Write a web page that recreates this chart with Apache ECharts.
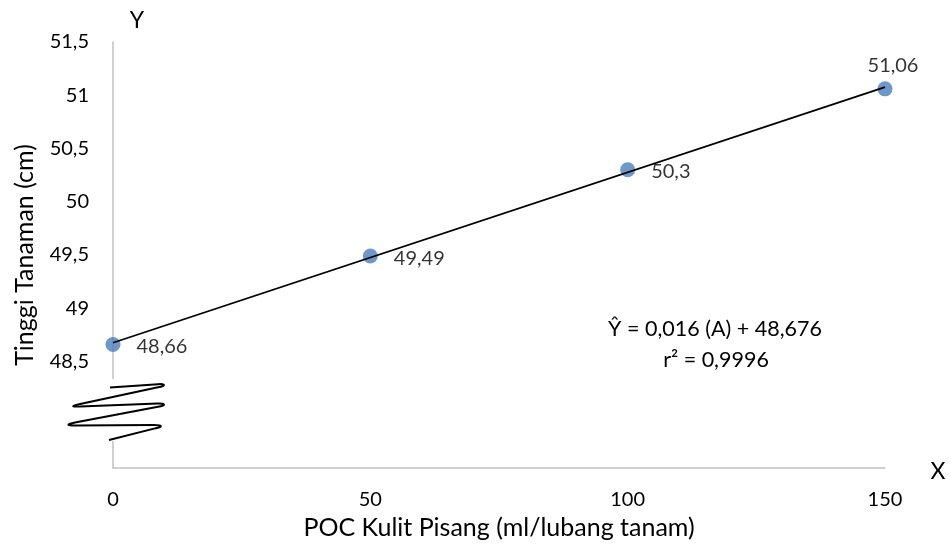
<!DOCTYPE html>
<html>
<head>
<meta charset="utf-8">
<script src="https://cdn.jsdelivr.net/npm/echarts@6/dist/echarts.min.js"></script>
<style>html,body{margin:0;padding:0;background:#fff}#c{width:951px;height:553px}</style>
</head>
<body>
<div id="c"></div>
<script>
// ---- data ----
const xValues = [0, 50, 100, 150];
const yValues = [48.66, 49.49, 50.3, 51.06];
const pointLabels = ['48,66', '49,49', '50,3', '51,06'];
const trendX = [0, 150];
const trendY = [48.676, 51.076];
const xTicks = [0, 50, 100, 150];
const yTickLabels = ['48,5', '49', '49,5', '50', '50,5', '51', '51,5'];
const equationLines = ['Ŷ = 0,016 (A) + 48,676', 'r² = 0,9996'];
const xTitle = 'POC Kulit Pisang (ml/lubang tanam)';
const yTitle = 'Tinggi Tanaman (cm)';

const FONT = 'Lato';
const TXT = '#000';
const chart = echarts.init(document.getElementById('c'), null, {renderer: 'canvas'});

const pts = xValues.map((x, i) => ({
  value: [x, yValues[i]],
  label: i === xValues.length - 1
    ? {position: 'top', distance: 6, offset: [8, 0]}
    : {position: 'right', distance: 16, offset: [0, 2]}
}));

function fmtY(v) {
  const s = String(Math.round(v * 10) / 10).replace('.', ',');
  return yTickLabels.indexOf(s) >= 0 ? s : '';
}

// axis-break zigzag (decoration)
const zzStroke = {stroke: '#000', lineWidth: 2, fill: null};
const zigLines = [
  [110, 387.5, 158, 384.2],
  [158, 387.3, 79, 404.2],
  [80, 406.6, 158, 403.6],
  [158, 406.8, 75, 422.4],
  [76, 425.4, 154, 425],
  [155, 428.4, 109, 440]
];
const zigTurns = [
  [158, 384.2, 158, 387.3, 166, 383.6, 166, 386],
  [79, 404.2, 80, 406.6, 71, 406, 71, 406.8],
  [158, 403.6, 158, 406.8, 166, 403.4, 166, 405.6],
  [75, 422.4, 76, 425.4, 66, 424.4, 66, 425.4],
  [154, 425, 155, 428.4, 163, 425, 163, 427]
];
const zigGraphics = [];
zigLines.forEach(l => zigGraphics.push({type: 'line', z: 51,
  shape: {x1: l[0], y1: l[1], x2: l[2], y2: l[3]}, style: zzStroke}));
zigTurns.forEach(t => zigGraphics.push({type: 'bezierCurve', z: 51,
  shape: {x1: t[0], y1: t[1], x2: t[2], y2: t[3], cpx1: t[4], cpy1: t[5], cpx2: t[6], cpy2: t[7]},
  style: zzStroke}));

const option = {
  animation: false,
  backgroundColor: '#fff',
  grid: {left: 113, right: 66, top: 42, bottom: 85, containLabel: false},
  xAxis: {
    type: 'value', min: 0, max: 150, interval: 50,
    name: xTitle, nameLocation: 'middle', nameGap: 47,
    nameTextStyle: {fontFamily: FONT, fontSize: 25, color: TXT},
    axisLine: {show: true, lineStyle: {color: '#c0c0c0', width: 1.5}},
    axisTick: {show: false},
    splitLine: {show: false},
    axisLabel: {fontFamily: FONT, fontSize: 20, color: TXT, margin: 22,
      formatter: v => xTicks.indexOf(v) >= 0 ? String(v) : ''}
  },
  yAxis: {
    type: 'value', min: 47.5, max: 51.5, interval: 0.5,
    name: yTitle, nameLocation: 'middle', nameGap: 76, nameRotate: 90,
    nameTextStyle: {fontFamily: FONT, fontSize: 25, color: TXT},
    axisLine: {show: true, lineStyle: {color: '#c0c0c0', width: 1.5}},
    axisTick: {show: false},
    splitLine: {show: false},
    axisLabel: {fontFamily: FONT, fontSize: 20, color: TXT, margin: 24, formatter: fmtY,
      showMinLabel: true, showMaxLabel: true}
  },
  series: [
    {
      type: 'scatter', data: pts, symbolSize: 15, z: 2,
      itemStyle: {color: '#4a7ebb'},
      label: {show: true, fontFamily: FONT, fontSize: 20, color: TXT,
        formatter: p => pointLabels[p.dataIndex]}
    },
    {
      type: 'line', data: trendX.map((x, i) => [x, trendY[i]]), z: 3,
      symbol: 'none', lineStyle: {color: '#000', width: 1.8}, silent: true
    }
  ],
  graphic: [
    {type: 'rect', shape: {x: 104, y: 379, width: 18, height: 62}, style: {fill: '#fff'}, z: 50}
  ].concat(zigGraphics).concat([
    {type: 'text', x: 137, y: 21, z: 52,
      style: {text: 'Y', fontFamily: FONT, fontSize: 23, fill: TXT, align: 'center', verticalAlign: 'middle'}},
    {type: 'text', x: 938, y: 472, z: 52,
      style: {text: 'X', fontFamily: FONT, fontSize: 23, fill: TXT, align: 'center', verticalAlign: 'middle'}},
    {type: 'text', x: 715, y: 329, z: 52,
      style: {text: equationLines[0], fontFamily: FONT, fontSize: 21.5, fill: TXT, align: 'center', verticalAlign: 'middle'}},
    {type: 'text', x: 716, y: 360, z: 52,
      style: {text: equationLines[1], fontFamily: FONT, fontSize: 21.5, fill: TXT, align: 'center', verticalAlign: 'middle'}}
  ])
};
chart.setOption(option);
</script>
</body>
</html>
